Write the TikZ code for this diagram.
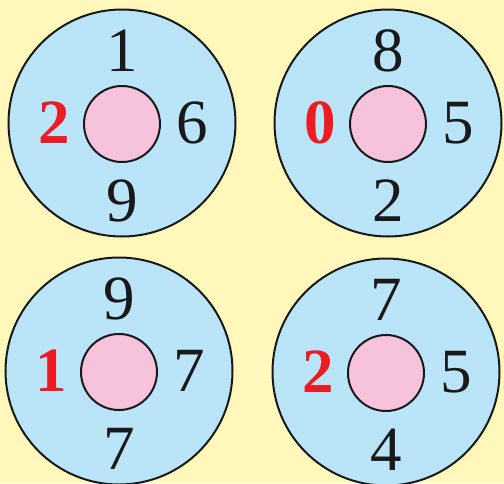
\documentclass[tikz,border=0pt]{standalone}
\usepackage{fontspec}
\setmainfont{Liberation Serif}
\usepackage{tikz}
\usetikzlibrary{positioning}
\definecolor{wheel-bg}{HTML}{FFF8BA}
\definecolor{wheel-ring}{HTML}{BAE5F9}
\definecolor{wheel-hub}{HTML}{F7C2DC}
\definecolor{wheel-red}{HTML}{ED1C24}
\tikzset{
  ring/.style={circle, draw=black!90, line width=2pt, fill=wheel-ring, minimum size=227pt, inner sep=0pt},
  hub/.style={circle, draw=black!90, line width=2pt, fill=wheel-hub, minimum size=76pt, inner sep=0pt},
  digit/.style={inner sep=0pt, font=\fontsize{63}{63}\selectfont, text=black!90},
  odd/.style={digit, font=\fontsize{63}{63}\selectfont\bfseries, text=wheel-red}
}
\begin{document}
\begin{tikzpicture}[x=1pt, y=-1pt]
  \fill[wheel-bg] (0,0) rectangle (504,483);
  \useasboundingbox (0,0) rectangle (504,483);

  \foreach \n/\cx/\cy/\top/\lft/\rgt/\bot in {a/122/123/1/2/6/9, b/388/123/8/0/5/2, c/119/371/9/1/7/7, d/386/372/7/2/5/4} {
    \node[ring] (ring-\n) at (\cx,\cy) {};
    \node[hub] (hub-\n) at (\cx,\cy+1) {};
    \node[digit] (top-\n) at (\cx,\cy-72) {\top};
    \node[odd] (lft-\n) at (\cx-68,\cy) {\lft};
    \node[digit] (rgt-\n) at (\cx+70,\cy) {\rgt};
    \node[digit] (bot-\n) at (\cx,\cy+78) {\bot};
  }

\end{tikzpicture}
\end{document}
